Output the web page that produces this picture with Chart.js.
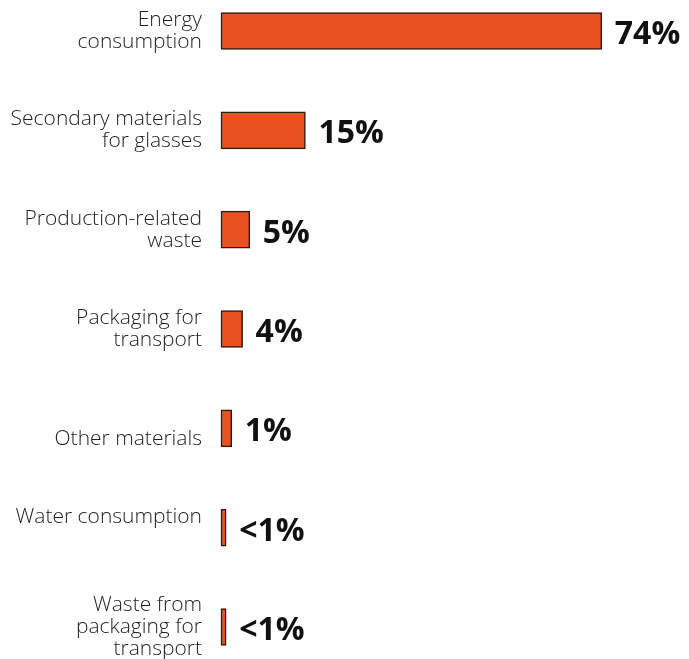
<!DOCTYPE html>
<html>
<head>
<meta charset="utf-8">
<style>
html,body{margin:0;padding:0;background:#fff;}
#wrap{width:689px;height:659px;position:relative;}
</style>
<script src="https://cdn.jsdelivr.net/npm/chart.js@4"></script>
</head>
<body>
<div id="wrap"><canvas id="c" width="689" height="659"></canvas></div>
<script>
const categories = [
  ['Energy', 'consumption'],
  ['Secondary materials', 'for glasses'],
  ['Production-related', 'waste'],
  ['Packaging for', 'transport'],
  ['', 'Other materials'],
  ['Water consumption', ''],
  ['Waste from', 'packaging for', 'transport']
];
const values = [74, 16.4, 5.6, 4.2, 2.1, 1.0, 1.0];
const valueLabels = ['74%', '15%', '5%', '4%', '1%', '<1%', '<1%'];

const barColor = '#E9521E';
const borderColor = '#2b1a12';

const valueLabelPlugin = {
  id: 'valueLabels',
  afterDatasetsDraw(chart) {
    const ctx = chart.ctx;
    const meta = chart.getDatasetMeta(0);
    ctx.save();
    ctx.font = 'bold 32px "Open Sans", sans-serif';
    ctx.fillStyle = '#111';
    ctx.textAlign = 'left';
    ctx.textBaseline = 'middle';
    meta.data.forEach((bar, i) => {
      ctx.fillText(valueLabels[i], bar.x + 13, bar.y + 4);
    });
    ctx.restore();
  }
};

new Chart(document.getElementById('c'), {
  type: 'bar',
  data: {
    labels: categories,
    datasets: [{
      data: values,
      backgroundColor: barColor,
      borderColor: borderColor,
      borderWidth: 1.5,
      borderSkipped: false,
      barThickness: 37,
      clip: false
    }]
  },
  options: {
    indexAxis: 'y',
    responsive: false,
    animation: false,
    layout: { padding: { top: 31, bottom: 32, left: 0, right: 10 } },
    plugins: { legend: { display: false }, tooltip: { enabled: false } },
    scales: {
      x: {
        display: false,
        min: 0,
        max: 89
      },
      y: {
        offset: false,
        grid: { display: false, drawTicks: false },
        border: { display: false },
        ticks: {
          padding: 19,
          color: '#1e1e1e',
          font: { family: '"Open Sans", sans-serif', size: 21, weight: '300', lineHeight: 1.05 }
        },
        afterFit(scale) {
          scale.width = 221;
          scale.paddingTop = 0;
          scale.paddingBottom = 0;
        }
      }
    }
  },
  plugins: [valueLabelPlugin]
});
</script>
</body>
</html>
